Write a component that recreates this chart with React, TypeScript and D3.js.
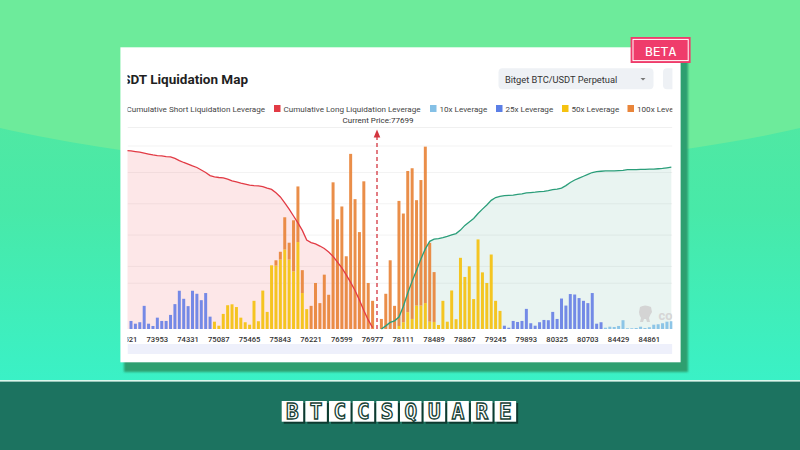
import * as React from "react";
import * as d3 from "d3";

// x-axis tick labels (one every 7 price buckets)
const tickLabels = [
  "73521", "73953", "74331", "75087", "75465", "75843", "76221", "76599", "76977",
  "78111", "78489", "78867", "79245", "79893", "80325", "80703", "84429", "84861",
];

// liquidation volume per price bucket, by leverage
const lev10 = [
  0, 0, 0, 0, 0, 0, 0, 0, 0, 0,
  0, 0, 0, 0, 0, 0, 0, 0, 0, 0,
  0, 0, 0, 0, 0, 0, 0, 0, 0, 0,
  0, 0, 0, 0, 0, 0, 0, 0, 0, 0,
  0, 0, 0, 0, 0, 0, 0, 0, 0, 0,
  0, 0, 0, 0, 0, 0, 0, 0, 0, 0,
  0, 0, 0, 0, 0, 0, 0, 0, 0, 0,
  0, 0, 0, 0, 0, 0, 0, 0, 0, 0,
  0, 0, 0, 0, 0, 0, 0, 0, 0, 0,
  0, 0, 0, 0, 0, 0, 0, 0, 0, 0,
  0, 0, 0, 0, 0, 0, 0, 0, 0, 1.4,
  2.5, 2.2, 3.3, 9.6, 0.8, 0.8, 1.1, 2.5, 1.1, 1.9,
  4.7, 5.2, 6.3, 8, 8.5,
];
const lev25 = [
  0, 8.8, 5.8, 7.4, 25.3, 5.8, 3.3, 12.4, 8.8, 8.8,
  15.4, 27.2, 41.8, 33, 25, 41.8, 38.5, 31.5, 39.3, 13.5,
  0, 0, 0, 0, 0, 0, 0, 0, 0, 0,
  0, 0, 0, 0, 0, 0, 0, 0, 0, 0,
  0, 0, 0, 0, 0, 0, 0, 0, 0, 0,
  0, 0, 0, 0, 0, 0, 0, 0, 0, 0,
  0, 0, 0, 0, 0, 0, 0, 0, 0, 0,
  0, 0, 0, 0, 0, 0, 0, 0, 0, 0,
  0, 0, 0, 0, 0, 0, 3.6, 1.4, 8.8, 7.7,
  8.8, 22, 6.3, 3.6, 7.4, 9.9, 9.6, 18.7, 11, 33.3,
  25.6, 38.2, 37.7, 33.8, 30.8, 28.3, 39.3, 5.8, 7.4, 0,
  0, 0, 0, 0, 0, 0, 0, 0, 0, 0,
  0, 0, 0, 0, 0,
];
const lev50 = [
  0, 0, 0, 0, 0, 0, 0, 0, 0, 0,
  0, 0, 0, 0, 0, 0, 0, 0, 0, 0,
  8, 3.6, 16.5, 26, 27, 24, 12.4, 7.4, 4.7, 30.8,
  8.5, 42, 18.7, 69.6, 69.3, 75.9, 86.9, 75.9, 63, 95,
  39.3, 21.7, 0, 0, 0, 0, 0, 0, 0, 0,
  0, 0, 0, 0, 0, 0, 0, 0, 0, 0,
  0, 0, 3.3, 7.4, 18.4, 11, 25.6, 25.6, 28.3, 8,
  7.7, 4.4, 30.8, 8, 42.1, 10.7, 77.8, 56.9, 68.5, 32.7,
  97.9, 61.9, 50.3, 81.4, 30.8, 19.8, 0, 0, 0, 0,
  0, 0, 0, 0, 0, 0, 0, 0, 0, 0,
  0, 0, 0, 0, 0, 0, 0, 0, 0, 0,
  0, 0, 0, 0, 0, 0, 0, 0, 0, 0,
  0, 0, 0, 0, 0,
];
const lev100 = [
  0, 0, 0, 0, 0, 0, 0, 0, 0, 0,
  0, 0, 0, 0, 0, 0, 0, 0, 0, 0,
  0, 0, 0, 0, 0, 0, 0, 0, 0, 0,
  0, 0, 0, 0, 5.8, 8.5, 35.2, 18.4, 55.8, 60.8,
  25, 0, 25.3, 50.3, 28.3, 59.4, 37.4, 160.3, 119.9, 133.9,
  79.5, 191.4, 141.9, 105.9, 161.4, 50.3, 30.8, 0, 11, 38.5,
  75.1, 25.3, 136.7, 118.8, 154.3, 164.7, 115.2, 137.2, 171, 86.2,
  54.5, 0, 0, 0, 0, 0, 0, 0, 0, 0,
  0, 0, 0, 0, 0, 0, 0, 0, 0, 0,
  0, 0, 0, 0, 0, 0, 0, 0, 0, 0,
  0, 0, 0, 0, 0, 0, 0, 0, 0, 0,
  0, 0, 0, 0, 0, 0, 0, 0, 0, 0,
  0, 0, 0, 0, 0,
];

// cumulative long liquidations (below price), buckets 0..56
const cumLong = [
  570, 569, 567, 565, 562, 559, 556, 554, 553, 551,
  550, 545, 538, 532, 527, 521, 516, 508, 500, 490,
  486, 484, 483, 479, 473, 470, 466, 463, 460, 458,
  457, 455, 450, 446, 435, 422, 403, 383, 361, 339,
  315, 284, 276, 272, 265, 257, 246, 232, 214, 195,
  173, 149, 123, 93, 59, 29, 4,
];
// cumulative short liquidations (above price), buckets 58..124
const SHORT_START = 58;
const cumShort = [
  0, 10, 21, 26, 38, 73, 115, 153, 188, 224,
  256, 280, 287, 289, 292, 296, 301, 305, 316, 331,
  342, 353, 369, 383, 396, 411, 420, 424, 426, 427,
  428, 430, 432, 435, 436, 437, 439, 440, 442, 445,
  447, 450, 458, 468, 476, 482, 488, 494, 500, 503,
  504, 505, 505, 505, 506, 507, 509, 509, 509, 510,
  510, 511, 511, 512, 513, 515, 517,
];

const PRICE_INDEX = 57;
const currentPrice = 77699;

const levKeys = ["lev10", "lev25", "lev50", "lev100"];
const levColors = ["#84c0e6", "#6a82e6", "#f5c211", "#e9853a"];

const legendNames = [
  "Cumulative Short Liquidation Leverage",
  "Cumulative Long Liquidation Leverage",
  "10x Leverage",
  "25x Leverage",
  "50x Leverage",
  "100x Leverage",
];
const legendColors = ["#2b9e7a", "#e23b45", "#84c0e6", "#5b7fe6", "#f5c211", "#e9853a"];
const legendSquareX = [118, 274, 430, 496, 562, 627.5];

const logoLetters = "BTCCSQUARE".split("");

const FONT = "Roboto, 'Noto Sans', sans-serif";

export default function App() {
  const n = lev10.length;
  const step = 4.393;
  const left = 127.5, right = 672.4, base = 329;

  const x = d3
    .scaleBand<number>()
    .domain(d3.range(n))
    .range([126.6 - step / 2, 126.6 - step / 2 + n * step])
    .paddingInner(0.32)
    .paddingOuter(0.16);
  const cx = (i: number) => (x(i) as number) + x.bandwidth() / 2;

  const yBar = d3.scaleLinear().domain([0, 200]).range([base, 146]);
  const yCum = d3.scaleLinear().domain([0, 600]).range([base, 141.2]);

  const rows = d3.range(n).map((i) => ({
    lev10: lev10[i], lev25: lev25[i], lev50: lev50[i], lev100: lev100[i],
  }));
  const stacked = d3.stack<any>().keys(levKeys)(rows);

  const longPts = cumLong.map((v, i) => [cx(i), v] as [number, number]);
  const shortPts = cumShort.map((v, i) => [cx(i + SHORT_START), v] as [number, number]);

  const line = d3.line<[number, number]>().x((d) => d[0]).y((d) => yCum(d[1]));
  const area = d3
    .area<[number, number]>()
    .x((d) => d[0])
    .y0(yCum(0))
    .y1((d) => yCum(d[1]));

  const px = cx(PRICE_INDEX);

  return (
    <svg
      width={800}
      height={450}
      style={{ position: "absolute", left: 0, top: 0, display: "block" }}
      fontFamily={FONT}
    >
      <defs>
        <linearGradient id="bg" x1="0" y1="0" x2="0" y2="1">
          <stop offset="0" stopColor="#5ae79c" />
          <stop offset="0.55" stopColor="#48e9a8" />
          <stop offset="1" stopColor="#3af1c6" />
        </linearGradient>
        <clipPath id="cardClip">
          <rect x={left} y={40} width={right - left} height={320} />
        </clipPath>
        <filter id="soft" x="-5%" y="-5%" width="110%" height="110%">
          <feGaussianBlur stdDeviation="1.2" />
        </filter>
      </defs>

      {/* background */}
      <rect x={0} y={0} width={800} height={381} fill="url(#bg)" />
      <ellipse cx={400} cy={-59} rx={700} ry={228} fill="#6deb9b" />
      <rect x={0} y={380} width={800} height={1.6} fill="#d9f8ec" />
      <rect x={0} y={381.6} width={800} height={70} fill="#1c7360" />

      {/* card */}
      <rect x={124} y={58} width={564} height={314} fill="#2f9f70" filter="url(#soft)" />
      <rect x={120.4} y={47.3} width={560.2} height={315} fill="#ffffff" />

      <g clipPath="url(#cardClip)">
        {/* title */}
        <text x={248} y={84} textAnchor="end" fontSize={13.5} fontWeight={700} fill="#1f1f1f">
          USDT Liquidation Map
        </text>

        {/* dropdowns */}
        <rect x={498.5} y={68.3} width={155} height={21} rx={4} fill="#eef1f5" />
        <text x={505} y={82.5} fontSize={9.3} fill="#333">Bitget BTC/USDT Perpetual</text>
        <path d={`M${640.5},${78} L${645.5},${78} L${643},${80.5} Z`} fill="#777" />
        <rect x={663} y={68.3} width={40} height={21} rx={4} fill="#eef1f5" />

        {/* legend */}
        {legendNames.map((name, i) => (
          <g key={name}>
            <rect x={legendSquareX[i]} y={105} width={6.5} height={7} fill={legendColors[i]} />
            <text
              x={i === 0 ? 265 : legendSquareX[i] + 9.5}
              y={111.5}
              fontSize={8.1}
              fill="#444"
              textAnchor={i === 0 ? "end" : "start"}
            >
              {name}
            </text>
          </g>
        ))}
        <text x={px + 1} y={123} fontSize={8} fill="#333" textAnchor="middle">
          {`Current Price:${currentPrice}`}
        </text>

        {/* grid */}
        <line x1={left} x2={right} y1={127.5} y2={127.5} stroke="#f0f0f0" />
        {[200, 300, 400, 500].map((t) => (
          <line key={"c" + t} x1={left} x2={right} y1={yCum(t)} y2={yCum(t)} stroke="#f3f3f3" />
        ))}
        {[50, 200].map((t) => (
          <line key={"b" + t} x1={left} x2={right} y1={yBar(t)} y2={yBar(t)} stroke="#f3f3f3" />
        ))}

        {/* cumulative areas */}
        <path d={area(longPts) || ""} fill="rgba(238, 70, 80, 0.13)" />
        <path d={area(shortPts) || ""} fill="rgba(40, 150, 120, 0.1)" />

        {/* stacked bars */}
        {stacked.map((layer, k) => (
          <g key={layer.key} fill={levColors[k]} opacity={0.92}>
            {layer.map((d, i) =>
              d[1] - d[0] > 0 ? (
                <rect
                  key={i}
                  x={x(i)}
                  y={yBar(d[1])}
                  width={x.bandwidth()}
                  height={yBar(d[0]) - yBar(d[1])}
                />
              ) : null
            )}
          </g>
        ))}

        {/* cumulative lines */}
        <path d={line(longPts) || ""} fill="none" stroke="#e23b45" strokeWidth={1.3} />
        <path d={line(shortPts) || ""} fill="none" stroke="#2b9e7a" strokeWidth={1.3} />

        {/* current price marker */}
        <line
          x1={px}
          x2={px}
          y1={base}
          y2={137}
          stroke="#d3353f"
          strokeWidth={1.3}
          strokeDasharray="4,3"
        />
        <path d={`M${px},${129.5} L${px - 3.3},${137.5} L${px + 3.3},${137.5} Z`} fill="#d3353f" />

        {/* watermark */}
        <path
          d="M640,307 q5,-3 11,0 l1,5 q-2,3 -3,6 l1,4 h-3 l-1,-3 h-2 l-1,3 h-3 l1,-4 q-2,-3 -2,-6 z"
          fill="#d4d4d4"
        />
        <text x={658.5} y={320} fontSize={13} fontWeight={700} fill="#d6d6d6">coinglass</text>

        {/* x axis labels */}
        {tickLabels.map((t, k) => (
          <text key={t} x={cx(k * 7)} y={341.5} fontSize={7.6} fontWeight={500} fill="#333" textAnchor="middle">
            {t}
          </text>
        ))}

        {/* zoom slider strip */}
        <rect x={left} y={344} width={right - left} height={10} fill="#eef0fb" />
      </g>

      {/* BETA badge */}
      <rect x={630.6} y={37} width={60} height={26} fill="#ef3c6b" />
      <rect x={633} y={39.4} width={55.2} height={21.2} fill="none" stroke="#ffffff" strokeWidth={1} />
      <text
        x={660.6}
        y={55.5}
        fontSize={13}
        fill="#ffffff"
        textAnchor="middle"
        fontFamily="'DejaVu Sans Mono', monospace"
      >
        BETA
      </text>

      {/* logo */}
      {logoLetters.map((c, i) => {
        const tx = 281.7 + i * 23.66;
        return (
          <g key={i}>
            <rect x={tx + 2} y={403} width={21.5} height={20.7} fill="#0e3a30" />
            <rect x={tx} y={401} width={21.5} height={20.7} fill="#ffffff" />
            <text
              x={tx + 10.75}
              y={419.3}
              fontSize={21}
              fontWeight={700}
              fontFamily="'DejaVu Sans Mono', monospace"
              textAnchor="middle"
              fill="#ffffff"
              stroke="#173f35"
              strokeWidth={1.3}
            >
              {c}
            </text>
          </g>
        );
      })}
    </svg>
  );
}
